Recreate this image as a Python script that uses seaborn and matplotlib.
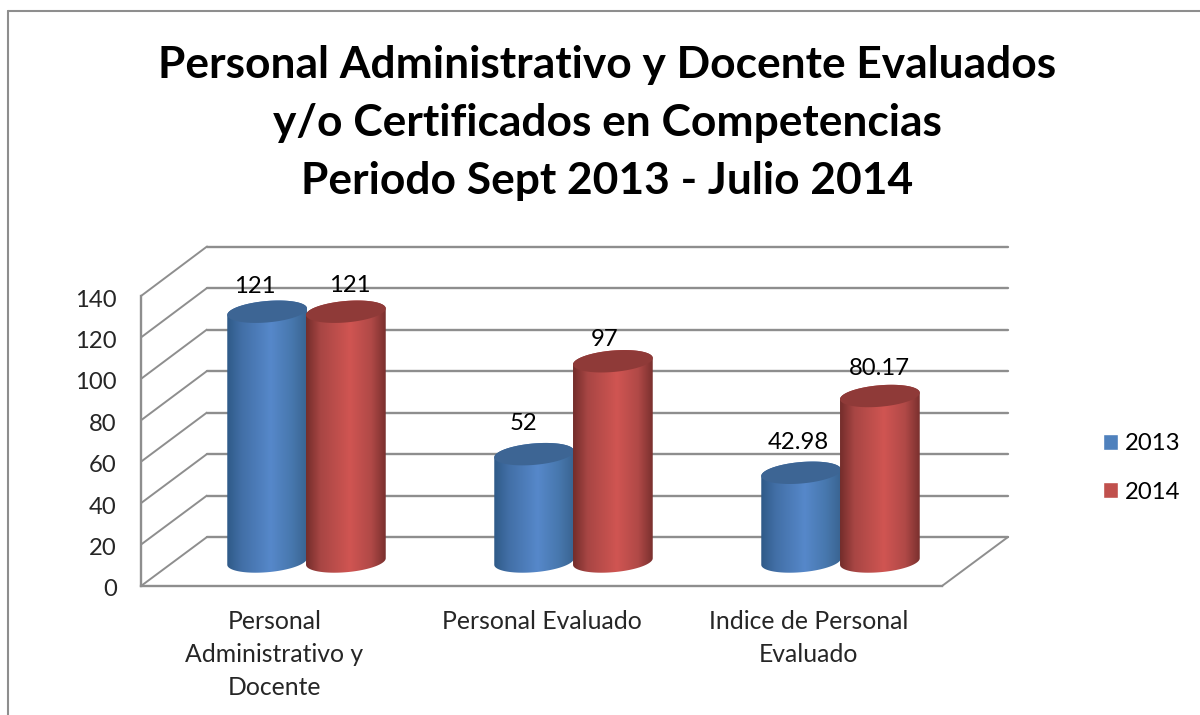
import numpy as np
import pandas as pd
import matplotlib
matplotlib.use('Agg')
import matplotlib.pyplot as plt
from matplotlib.colors import LinearSegmentedColormap
from matplotlib.lines import Line2D
from matplotlib.patches import ConnectionPatch, PathPatch
from matplotlib.path import Path
from matplotlib.transforms import ScaledTranslation
import seaborn as sns

# Chart data
categories = ['Personal\nAdministrativo y\nDocente', 'Personal Evaluado', 'Indice de Personal\nEvaluado']
years = ['2013', '2014']
values_2013 = [121, 52, 42.98]
values_2014 = [121, 97, 80.17]
value_labels = [['121', '52', '42.98'], ['121', '97', '80.17']]
y_ticks = [0, 20, 40, 60, 80, 100, 120, 140]
title = 'Personal Administrativo y Docente Evaluados\ny/o Certificados en Competencias\nPeriodo Sept 2013 - Julio 2014'

W, H = 1200, 715
GRID = '#8e8e8e'
TEXT_SIZE = 17.8
NUM_SIZE = 17.2


def px_axes(left, top, right, bottom):
    # axes from pixel box, y counted from the top of the picture
    return fig.add_axes([left / W, 1 - bottom / H, (right - left) / W, (bottom - top) / H])


sns.set_theme(style='white')
plt.rcParams['font.family'] = ['Lato', 'DejaVu Sans']
plt.rcParams['text.color'] = 'black'

fig = plt.figure(figsize=(W / 100, H / 100), dpi=100, facecolor='white')

# back wall, front plane and the plane the cylinders stand on
back = px_axes(207, 246.5, 1008, 537)
front = px_axes(141, 296, 942, 586)
ax = px_axes(173, 272.5, 974, 561.5)

# gridlines on the back wall
back.set_xlim(0, 1)
back.set_ylim(0, 140)
back.set_yticks(y_ticks)
back.set_xticks([])
back.set_yticklabels([])
back.grid(axis='y', color=GRID, lw=1.7, clip_on=False)
back.tick_params(left=False)
sns.despine(ax=back, left=True, bottom=True)

# front plane carries the tick labels
front.set_xlim(-0.5, 2.5)
front.set_ylim(0, 140)
front.set_yticks(y_ticks)
front.set_xticks(range(len(categories)))
front.set_xticklabels(categories, fontsize=TEXT_SIZE, linespacing=1.53, va='top')
front.tick_params(axis='y', labelsize=NUM_SIZE, left=False, pad=11.5)
front.tick_params(axis='x', bottom=False, pad=11)
front.patch.set_visible(False)
for lab in front.get_yticklabels():
    # labels sit a little lower than their gridline
    lab.set_transform(lab.get_transform() + ScaledTranslation(0, -2 / 100, fig.dpi_scale_trans))
sns.despine(ax=front)
for side in ['left', 'bottom']:
    front.spines[side].set_color(GRID)
    front.spines[side].set_linewidth(1.7)

# diagonal lines joining front plane and back wall
for v in y_ticks:
    fig.add_artist(ConnectionPatch((-0.5, v), (0, v), coordsA=front.transData, coordsB=back.transData,
                                   color=GRID, lw=1.4, zorder=-1))
fig.add_artist(ConnectionPatch((2.5, 0), (1, 0), coordsA=front.transData, coordsB=back.transData,
                               color=GRID, lw=1.4, zorder=-1))

df = pd.DataFrame({
    'categoria': categories * 2,
    'anio': [years[0]] * 3 + [years[1]] * 3,
    'valor': values_2013 + values_2014,
})
palette = {'2013': '#4f81bd', '2014': '#c0504d'}
sns.barplot(data=df, x='categoria', y='valor', hue='anio', palette=palette, width=0.59, gap=0,
            saturation=1, ax=ax)
ax.set_xlim(-0.5, 2.5)
ax.set_ylim(0, 140)
ax.set_axis_off()
ax.patch.set_visible(False)

sns.move_legend(ax, loc='center left', bbox_to_anchor=(1103 / W, 1 - 468 / H),
                bbox_transform=fig.transFigure, frameon=False, title=None, fontsize=NUM_SIZE,
                handlelength=0.63, handleheight=0.63, handletextpad=0.29, labelspacing=1.14,
                borderpad=0, borderaxespad=0)

# gradient and cap colours per series
body_cmaps = [
    LinearSegmentedColormap.from_list('b', [(0, '#2f5a88'), (0.18, '#426fa6'), (0.55, '#5688ca'),
                                            (0.82, '#4777ad'), (1, '#3a6491')]),
    LinearSegmentedColormap.from_list('r', [(0, '#742d2b'), (0.18, '#a84644'), (0.55, '#d05552'),
                                            (0.82, '#b04947'), (1, '#7a302e')]),
]
cap_colors = ['#3d6594', '#8f3a38']
offsets = [[(-12, 25), (-11, 31), (-3, 30)], [(4, 26), (-8, 22), (0, 28)]]

ELLIPSE_B = 5.2  # half height of the cap, in y units
TILT = 10.5  # y units per x unit, the ellipses lean up to the right
t = np.linspace(0, np.pi, 60)

for s, bars in enumerate(ax.containers):
    for i, bar in enumerate(bars):
        x0, w, h = bar.get_x(), bar.get_width(), bar.get_height()
        cx, a = x0 + w / 2, w / 2 * 1.012
        bar.set_visible(False)

        # lower arc of the base, upper arc of the top
        xl = cx - a * np.cos(t)
        yl = -ELLIPSE_B * np.sin(t) + TILT * (xl - cx)
        xu = cx + a * np.cos(t)
        yu = h + ELLIPSE_B * np.sin(t) + TILT * (xu - cx)
        body = Path(np.column_stack([np.r_[xl, xu], np.r_[yl, yu]]))
        body_patch = PathPatch(body, fc='none', ec='none', transform=ax.transData)
        ax.add_patch(body_patch)
        im = ax.imshow(np.linspace(0, 1, 128)[None, :], cmap=body_cmaps[s], aspect='auto',
                       extent=[cx - a, cx + a, -15, h + 15], zorder=3 + s)
        im.set_clip_path(body_patch)
        im.set_clip_box(fig.bbox)

        # flat top of the cylinder
        tt = np.linspace(0, 2 * np.pi, 120)
        xc = cx + a * np.cos(tt)
        yc = h + ELLIPSE_B * np.sin(tt) + TILT * (xc - cx)
        ax.fill(xc, yc, color=cap_colors[s], lw=0, zorder=3.5 + s)

        ax.annotate(value_labels[s][i], (cx, h), xytext=offsets[s][i], textcoords='offset pixels',
                    ha='center', va='center', fontsize=NUM_SIZE, zorder=6, annotation_clip=False)

ax.set_xlim(-0.5, 2.5)
ax.set_ylim(0, 140)

fig.text(607 / W, 1 - 123 / H, title, ha='center', va='center', fontsize=31.85, fontweight='bold',
         linespacing=1.56)

# chart area border, only top and left show in the crop
fig.add_artist(Line2D([8 / W, 8 / W], [0, 1 - 10.5 / H], color=GRID, lw=1.5))
fig.add_artist(Line2D([8 / W, 1], [1 - 10.5 / H, 1 - 10.5 / H], color=GRID, lw=1.5))

fig.savefig('out.png', dpi=100)
